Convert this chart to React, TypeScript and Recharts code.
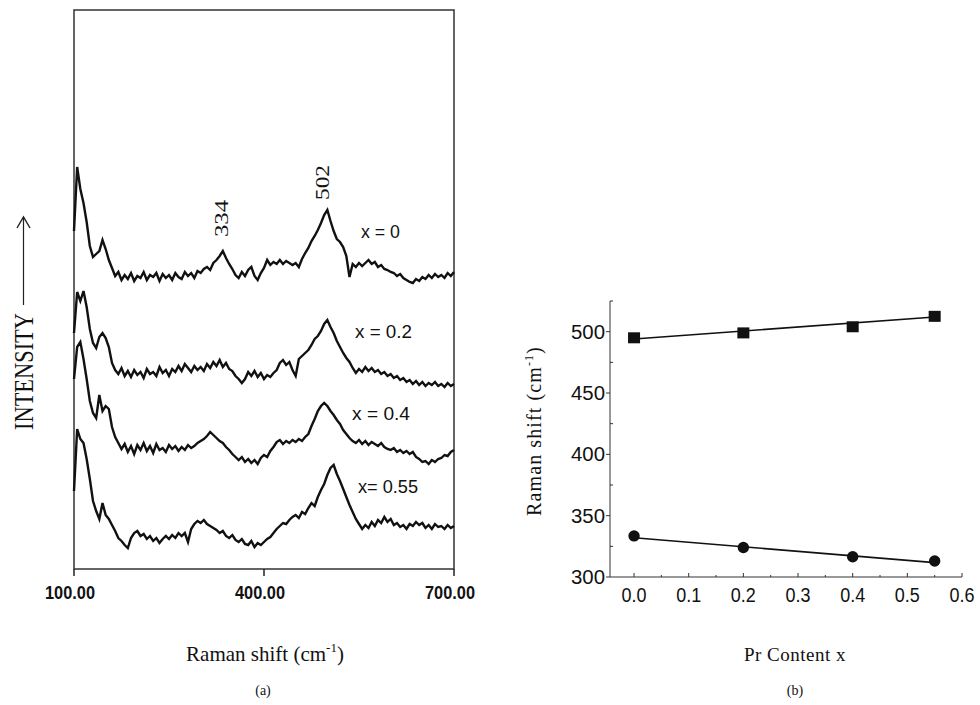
import {
  ComposedChart,
  Line,
  LineChart,
  ReferenceArea,
  Scatter,
  XAxis,
  YAxis,
} from "recharts";

// Raman spectra, sampled every 5 cm-1 from 100 to 700 (intensity in arbitrary units)
const SHIFT_START = 100;
const SHIFT_STEP = 5;

const spectrumX0 = [
  338, 402, 380, 366, 347, 323, 312, 315, 318, 329,
  320, 309, 301, 293, 297, 289, 294, 290, 296, 288,
  293, 291, 297, 289, 294, 292, 296, 288, 295, 291,
  294, 289, 296, 292, 290, 297, 293, 296, 291, 298,
  296, 300, 302, 299, 306, 309, 313, 318, 311, 305,
  300, 294, 291, 297, 293, 299, 302, 293, 289, 296,
  301, 309, 304, 307, 305, 309, 305, 308, 306, 304,
  306, 302, 310, 316, 321, 328, 333, 339, 346, 354,
  359, 348, 338, 330, 327, 322, 313, 292, 305, 302,
  306, 303, 306, 309, 305, 307, 302, 304, 300, 299,
  297, 296, 293, 295, 291, 289, 287, 286, 290, 288,
  292, 290, 294, 291, 295, 292, 294, 291, 296, 293,
  297,
];

const spectrumX02 = [
  236, 277, 268, 278, 262, 240, 226, 221, 232, 236,
  231, 222, 206, 199, 195, 201, 193, 198, 192, 199,
  194, 197, 191, 200, 195, 197, 193, 202, 196, 199,
  193, 200, 197, 203, 198, 205, 201, 197, 203, 199,
  202, 198, 205, 201, 207, 203, 209, 202, 206, 200,
  198, 193, 190, 186, 190, 197, 193, 198, 192, 196,
  190, 194, 192, 196, 199, 206, 209, 204, 207, 199,
  193, 210, 213, 216, 219, 224, 230, 233, 238, 245,
  249, 242, 236, 228, 222, 216, 211, 207, 201, 196,
  200, 197, 202, 198, 201, 197, 199, 195, 197, 193,
  195, 191, 193, 189, 191, 187, 189, 185, 188, 184,
  187, 183, 186, 184, 187, 183, 185, 182, 186, 183,
  185,
];

const spectrumX04 = [
  190, 222, 227, 210, 190, 168, 156, 151, 174, 158,
  163, 160, 142, 132, 126, 120, 125, 117, 123, 115,
  124, 119, 126, 118, 123, 116, 125, 119, 121, 117,
  124, 120, 123, 118, 122, 119, 124, 121, 123, 126,
  128, 130, 133, 137, 134, 131, 128, 126, 122, 119,
  115, 112, 109, 112, 107, 110, 106, 109, 105, 111,
  114, 112, 118, 122, 127, 129, 125, 128, 126, 129,
  127, 130, 128, 132, 135, 143, 150, 158, 163, 166,
  163, 158, 154, 149, 145, 139, 135, 131, 128, 126,
  129, 125, 128, 124, 127, 125, 123, 126, 122, 120,
  119, 121, 117, 119, 116, 118, 115, 117, 112, 110,
  107, 108, 105, 109, 107, 110, 111, 114, 113, 117,
  119,
];

const spectrumX055 = [
  78, 140, 130, 126, 110, 90, 68, 58, 50, 66,
  54, 50, 44, 38, 31, 28, 24, 21, 31, 36,
  38, 33, 35, 30, 33, 28, 31, 26, 30, 33,
  30, 34, 31, 36, 33, 36, 27, 40, 45, 48,
  46, 49, 45, 43, 41, 39, 36, 38, 33, 31,
  34, 29, 27, 30, 25, 24, 28, 22, 26, 24,
  27, 30, 32, 36, 40, 43, 46, 45, 49, 52,
  54, 51, 57, 55, 61, 66, 63, 72, 79, 85,
  94, 101, 104, 95, 88, 80, 72, 64, 57, 50,
  45, 40, 44, 41, 47, 43, 49, 46, 52, 47,
  50, 44, 46, 42, 44, 40, 45, 43, 47, 44,
  46, 41, 44, 40, 45, 42, 43, 40, 44, 41,
  43,
];

const shiftTicks = [100, 400, 700];

// Peak positions vs Pr content
const prContent = [0, 0.2, 0.4, 0.55];
const peakHigh = [495, 499, 504, 512.5];
const peakLow = [333.5, 324, 316.5, 313];
const fitX = [0, 0.55];
const fitHigh = [494, 512];
const fitLow = [332, 311.7];

const ramanTicks = [300, 325, 350, 375, 400, 425, 450, 475, 500, 525];
const contentTicks = [0, 0.05, 0.1, 0.15, 0.2, 0.25, 0.3, 0.35, 0.4, 0.45, 0.5, 0.55, 0.6];

const spectra = spectrumX0.map((v, i) => ({
  shift: SHIFT_START + i * SHIFT_STEP,
  a: v,
  b: spectrumX02[i],
  c: spectrumX04[i],
  d: spectrumX055[i],
}));

const highPoints = prContent.map((x, i) => ({ x, y: peakHigh[i] }));
const lowPoints = prContent.map((x, i) => ({ x, y: peakLow[i] }));
const highFit = fitX.map((x, i) => ({ x, y: fitHigh[i] }));
const lowFit = fitX.map((x, i) => ({ x, y: fitLow[i] }));

const INK = "#111";
const SANS = "'Liberation Sans', Arial, sans-serif";
const SERIF = "'Liberation Serif', 'Times New Roman', serif";

function ShiftTick({ x, y, payload }: any) {
  return (
    <g>
      <line x1={x} y1={y} x2={x} y2={y + 7} stroke="#222" strokeWidth={1.5} />
      <text
        x={x - 4}
        y={y + 30}
        textAnchor="middle"
        fontFamily={SANS}
        fontWeight="bold"
        fontSize={19}
        textLength={50}
        lengthAdjust="spacingAndGlyphs"
        fill={INK}
      >
        {Number(payload.value).toFixed(2)}
      </text>
    </g>
  );
}

function RamanTick({ x, y, payload }: any) {
  const major = payload.value % 50 === 0;
  if (!major) {
    return <line x1={x} y1={y} x2={x + 3} y2={y} stroke="#333" strokeWidth={1} />;
  }
  return (
    <g>
      <line x1={x - 4} y1={y} x2={x} y2={y} stroke="#333" strokeWidth={1} />
      <text
        x={x - 5}
        y={y + 7}
        textAnchor="end"
        fontFamily={SANS}
        fontSize={20}
        textLength={34}
        lengthAdjust="spacingAndGlyphs"
        fill={INK}
      >
        {payload.value}
      </text>
    </g>
  );
}

function ContentTick({ x, y, payload, index }: any) {
  const major = index % 2 === 0;
  if (!major) {
    return <line x1={x} y1={y} x2={x} y2={y - 2} stroke="#333" strokeWidth={1} />;
  }
  return (
    <g>
      <line x1={x} y1={y} x2={x} y2={y - 4} stroke="#333" strokeWidth={1} />
      <text
        x={x}
        y={y + 25}
        textAnchor="middle"
        fontFamily={SANS}
        fontSize={20}
        textLength={25}
        lengthAdjust="spacingAndGlyphs"
        fill={INK}
      >
        {Number(payload.value).toFixed(1)}
      </text>
    </g>
  );
}

const SquareMark = ({ cx, cy }: any) => (
  <rect x={cx - 6} y={cy - 5.5} width={12} height={11} fill={INK} />
);
const CircleMark = ({ cx, cy }: any) => <circle cx={cx} cy={cy} r={5.7} fill={INK} />;

function SpectraPanel() {
  return (
    <LineChart
      width={500}
      height={620}
      data={spectra}
      margin={{ top: 10, right: 46, left: 74, bottom: 21 }}
    >
      <XAxis
        type="number"
        dataKey="shift"
        domain={[100, 700]}
        ticks={shiftTicks}
        interval={0}
        tickSize={0}
        tickMargin={0}
        tick={ShiftTick}
        tickLine={false}
        axisLine={false}
        height={30}
      />
      <YAxis type="number" domain={[0, 559]} hide />
      <ReferenceArea
        x1={100}
        x2={700}
        y1={0}
        y2={559}
        fill="none"
        stroke="#333"
        strokeWidth={1.5}
      />
      <Line type="linear" dataKey="a" stroke={INK} strokeWidth={2.4} dot={false} isAnimationActive={false} />
      <Line type="linear" dataKey="b" stroke={INK} strokeWidth={2.4} dot={false} isAnimationActive={false} />
      <Line type="linear" dataKey="c" stroke={INK} strokeWidth={2.4} dot={false} isAnimationActive={false} />
      <Line type="linear" dataKey="d" stroke={INK} strokeWidth={2.4} dot={false} isAnimationActive={false} />
    </LineChart>
  );
}

function PeakPanel() {
  return (
    <ComposedChart
      width={440}
      height={340}
      margin={{ top: 21, right: 18, left: 30, bottom: 13 }}
    >
      <XAxis
        type="number"
        dataKey="x"
        domain={[-0.044, 0.6]}
        ticks={contentTicks}
        interval={0}
        tickSize={0}
        tickMargin={0}
        tick={ContentTick}
        tickLine={false}
        axisLine={{ stroke: "#333", strokeWidth: 1 }}
        allowDataOverflow
        height={30}
      />
      <YAxis
        type="number"
        dataKey="y"
        domain={[300, 525]}
        ticks={ramanTicks}
        interval={0}
        tickSize={0}
        tickMargin={0}
        tick={RamanTick}
        tickLine={false}
        axisLine={{ stroke: "#333", strokeWidth: 1 }}
        allowDataOverflow
        width={40}
      />
      <Line data={highFit} type="linear" dataKey="y" stroke={INK} strokeWidth={1.6} dot={false} isAnimationActive={false} />
      <Line data={lowFit} type="linear" dataKey="y" stroke={INK} strokeWidth={1.6} dot={false} isAnimationActive={false} />
      <Scatter data={highPoints} dataKey="y" shape={SquareMark} isAnimationActive={false} />
      <Scatter data={lowPoints} dataKey="y" shape={CircleMark} isAnimationActive={false} />
    </ComposedChart>
  );
}

function Annotations() {
  return (
    <svg
      width={980}
      height={705}
      style={{ position: "absolute", left: 0, top: 0, pointerEvents: "none" }}
    >
      {/* left panel y title with arrow */}
      <text
        transform="translate(33,371.5) rotate(-90)"
        textAnchor="middle"
        fontFamily={SERIF}
        fontSize={27}
        textLength={117}
        lengthAdjust="spacingAndGlyphs"
        fill={INK}
      >
        INTENSITY
      </text>
      <line x1={23.5} y1={305} x2={23.5} y2={218} stroke="#222" strokeWidth={1.2} />
      <polyline points="17,228 23.5,217 30,228" fill="none" stroke="#222" strokeWidth={1.4} />

      {/* peak labels */}
      <text
        transform="translate(228,218.5) rotate(-90)"
        textAnchor="middle"
        fontFamily={SERIF}
        fontSize={19}
        textLength={37}
        lengthAdjust="spacingAndGlyphs"
        fill={INK}
      >
        334
      </text>
      <text
        transform="translate(329,182.5) rotate(-90)"
        textAnchor="middle"
        fontFamily={SERIF}
        fontSize={19}
        textLength={35}
        lengthAdjust="spacingAndGlyphs"
        fill={INK}
      >
        502
      </text>

      {/* composition labels */}
      <g fontFamily={SANS} fontSize={18} fill={INK}>
        <text x={361} y={238} textLength={39} lengthAdjust="spacingAndGlyphs">x = 0</text>
        <text x={355} y={338} textLength={57} lengthAdjust="spacingAndGlyphs">x = 0.2</text>
        <text x={352} y={420} textLength={58} lengthAdjust="spacingAndGlyphs">x = 0.4</text>
        <text x={358} y={493} textLength={60} lengthAdjust="spacingAndGlyphs">x= 0.55</text>
      </g>

      {/* left panel x title */}
      <text x={265} y={661} textAnchor="middle" fontFamily={SERIF} fontSize={21} fill={INK}>
        Raman shift (cm
        <tspan fontSize={13} dy={-9}>-1</tspan>
        <tspan dy={9}>)</tspan>
      </text>
      <text x={263} y={695} textAnchor="middle" fontFamily={SERIF} fontSize={14} fill={INK}>
        (a)
      </text>

      {/* right panel titles */}
      <text
        transform="translate(541,431) rotate(-90)"
        textAnchor="middle"
        fontFamily={SERIF}
        fontSize={20}
        letterSpacing={1.1}
        fill={INK}
      >
        Raman shift (cm
        <tspan fontSize={12} dy={-8}>-1</tspan>
        <tspan dy={8}>)</tspan>
      </text>
      <text x={795} y={661} textAnchor="middle" fontFamily={SERIF} fontSize={19} letterSpacing={0.5} fill={INK}>
        Pr Content x
      </text>
      <text x={795} y={695} textAnchor="middle" fontFamily={SERIF} fontSize={14} fill={INK}>
        (b)
      </text>
    </svg>
  );
}

export default function App() {
  return (
    <div
      style={{
        position: "absolute",
        left: 0,
        top: 0,
        width: 980,
        height: 705,
        background: "#fff",
        overflow: "hidden",
      }}
    >
      <div style={{ position: "absolute", left: 0, top: 0 }}>
        <SpectraPanel />
      </div>
      <div style={{ position: "absolute", left: 540, top: 280 }}>
        <PeakPanel />
      </div>
      <Annotations />
    </div>
  );
}
